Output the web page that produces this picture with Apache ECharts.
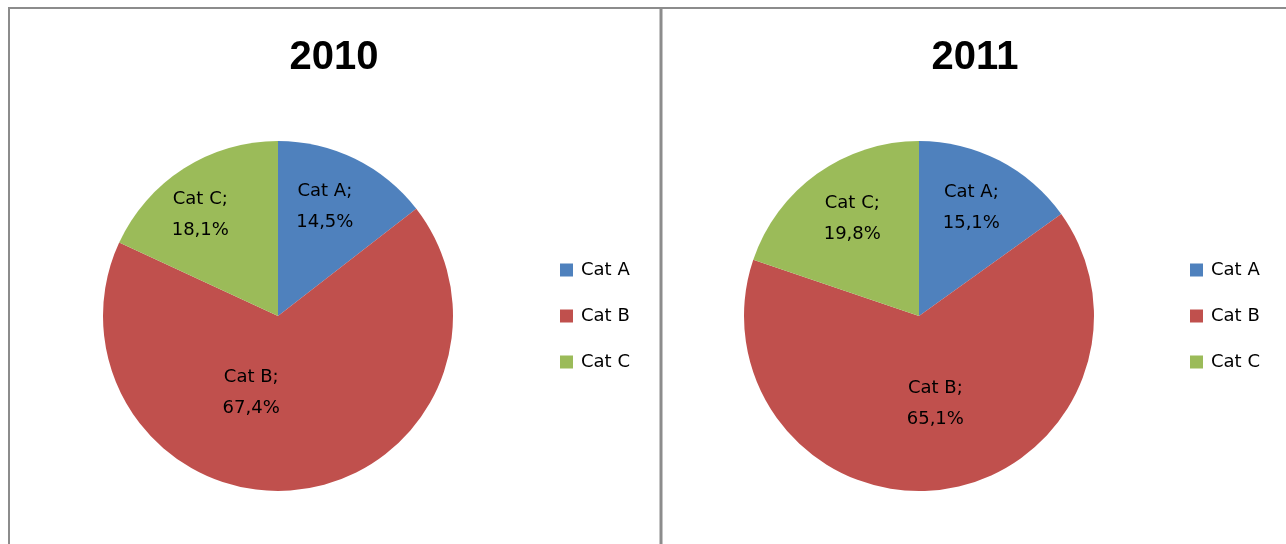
<!DOCTYPE html>
<html>
<head>
<meta charset="utf-8">
<script src="https://cdn.jsdelivr.net/npm/echarts@6/dist/echarts.min.js"></script>
<style>
  html, body { margin: 0; padding: 0; background: #fff; }
  #chart { width: 1286px; height: 544px; }
</style>
</head>
<body>
<div id="chart"></div>
<script>
const categories = ["Cat A", "Cat B", "Cat C"];
const years = ["2010", "2011"];
const values2010 = [14.5, 67.4, 18.1];
const values2011 = [15.1, 65.1, 19.8];
const colors = ["#4F81BD", "#C0504D", "#9BBB59"];

// nudges for Excel-style "best fit" label placement (px from default inside spot)
const nudge2010 = [[7, -28], [-37, -13], [-29, -25]];
const nudge2011 = [[11, -28], [3, -2], [-14, -24]];

const chart = echarts.init(document.getElementById("chart"), null, { renderer: "canvas" });

function pctLabel(params) {
  return params.name + ";\n" + params.value.toFixed(1).replace(".", ",") + "%";
}

function makePie(values, center, nudge) {
  return {
    type: "pie",
    radius: 175,
    center: center,
    startAngle: 90,
    clockwise: true,
    avoidLabelOverlap: false,
    silent: true,
    itemStyle: { borderWidth: 0 },
    label: {
      show: true,
      position: "inside",
      formatter: pctLabel,
      color: "#000",
      fontFamily: "DejaVu Sans",
      fontSize: 18,
      lineHeight: 31,
      align: "center",
    },
    labelLine: { show: false },
    labelLayout: (params) => ({ dx: nudge[params.dataIndex][0], dy: nudge[params.dataIndex][1] }),
    data: categories.map((name, i) => ({ name, value: values[i], itemStyle: { color: colors[i] } })),
  };
}

function makeLegend(left) {
  return {
    data: categories,
    orient: "vertical",
    left: left,
    top: 261,
    padding: 0,
    itemWidth: 13,
    itemHeight: 13,
    itemGap: 28,
    icon: "rect",
    selectedMode: false,
    textStyle: { fontFamily: "DejaVu Sans", fontSize: 18, color: "#000", padding: [0, 0, 0, 3] },
  };
}

function makeTitle(text, left) {
  return {
    text: text,
    left: left,
    top: 38,
    textAlign: "center",
    padding: 0,
    textStyle: { fontFamily: "Liberation Sans", fontWeight: "bold", fontSize: 40, lineHeight: 40, color: "#000" },
  };
}

const frame = { stroke: "#8c8c8c", lineWidth: 2 };

const option = {
  animation: false,
  backgroundColor: "#fff",
  color: colors,
  title: [makeTitle(years[0], 334), makeTitle(years[1], 975)],
  legend: [makeLegend(560), makeLegend(1190)],
  series: [makePie(values2010, [278, 316], nudge2010), makePie(values2011, [919, 316], nudge2011)],
  graphic: [
    { type: "line", shape: { x1: 8, y1: 8, x2: 1286, y2: 8 }, style: frame, silent: true },
    { type: "line", shape: { x1: 9, y1: 8, x2: 9, y2: 544 }, style: frame, silent: true },
    { type: "line", shape: { x1: 661, y1: 8, x2: 661, y2: 544 }, style: { stroke: "#8c8c8c", lineWidth: 3 }, silent: true },
  ],
};

chart.setOption(option);
window.addEventListener("resize", chart.resize);
</script>
</body>
</html>
